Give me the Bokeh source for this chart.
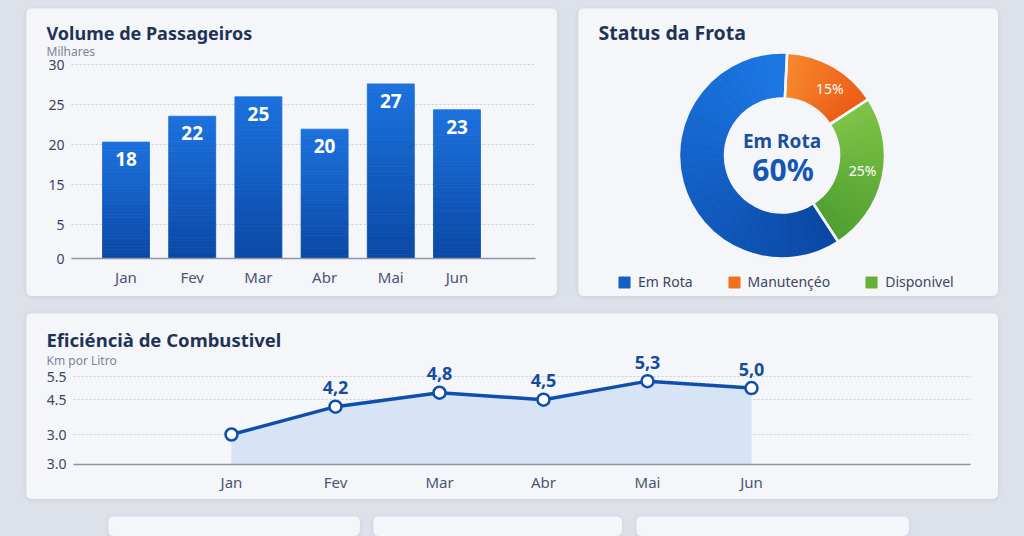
import numpy as np
from bokeh.plotting import figure
from bokeh.models import (ColumnDataSource, FixedTicker, Legend, LegendItem,
                          Range1d, LinearAxis, Grid)
from bokeh.layouts import column, row
from bokeh.embed import file_html
from bokeh.resources import INLINE
from bokeh.core.properties import value

# ---------------- data ----------------
months = ["Jan", "Fev", "Mar", "Abr", "Mai", "Jun"]
passengers = [18, 22, 25, 20, 27, 23]
bar_tick_values = [0, 5.2, 11.4, 17.6, 23.8, 30]
bar_tick_labels = ["0", "5", "15", "20", "25", "30"]

status = ["Em Rota", "Manutençéo", "Disponivel"]
status_pct = [60, 15, 25]
status_colors = ["#1767d4", "#f26a1b", "#63b43a"]

fuel = [3.0, 4.2, 4.8, 4.5, 5.3, 5.0]
fuel_tick_values = [1.72, 3.0, 4.5, 5.5]
fuel_tick_labels = ["3.0", "3.0", "4.5", "5.5"]

# ---------------- style ----------------
FONT = "Noto Sans"
BG = "#dde1e9"
CARD = "#f5f6f9"
NAVY = "#1f3357"
SUB = "#7d8596"
TICK = "#3b4664"
XLAB = "#4b5573"
GRID = "#c9cdd6"
AXIS = "#8f95a7"
BLUE_LINE = "#0e4fae"
# angular gradient ends (start colour, end colour) for each donut slice
slice_grad = [("#0a47a4", "#1c78e6"), ("#f7872b", "#ec5a13"), ("#7dc446", "#4f9e2f")]


def hexmix(c0, c1, t):
    a = np.array([int(c0[i:i + 2], 16) for i in (1, 3, 5)], dtype=float)
    b = np.array([int(c1[i:i + 2], 16) for i in (1, 3, 5)], dtype=float)
    c = a + (b - a) * t
    return "#%02x%02x%02x" % tuple(int(round(v)) for v in c)


def make_card(w, h, xr, yr):
    p = figure(width=w, height=h, output_backend="svg", toolbar_location=None,
               x_range=Range1d(*xr), y_range=Range1d(*yr),
               x_axis_type=None, y_axis_type=None, min_border=0)
    p.frame_align = False
    p.background_fill_color = CARD
    p.border_fill_color = CARD
    p.outline_line_color = None
    p.styles = {"border-radius": "6px", "overflow": "hidden",
                "box-shadow": "0 1px 4px rgba(40,50,80,0.10)"}
    return p


def px(p, x, y):
    """card pixel offset -> data coordinate (for decorative text placement)"""
    xr, yr = p.x_range, p.y_range
    return (xr.start + x / p.width * (xr.end - xr.start),
            yr.end - y / p.height * (yr.end - yr.start))


def add_axes(p, xloc, yloc, xb, xticks, xlabels, yticks, ylabels, xstand):
    xa = LinearAxis(fixed_location=yloc, bounds=xb, ticker=FixedTicker(ticks=xticks),
                    major_label_overrides=dict(zip(xticks, xlabels)))
    ya = LinearAxis(fixed_location=xloc, ticker=FixedTicker(ticks=yticks),
                    major_label_overrides=dict(zip(yticks, ylabels)))
    for ax in (xa, ya):
        ax.major_tick_line_color = None
        ax.minor_tick_line_color = None
        ax.major_tick_out = 0
        ax.minor_tick_out = 0
        ax.major_label_text_font = FONT
    ya.major_label_text_font_size = "14px"
    xa.major_label_text_font_size = "15px"
    ya.axis_line_color = None
    ya.major_label_text_color = TICK
    ya.major_label_standoff = 7
    xa.axis_line_color = AXIS
    xa.axis_line_width = 1.5
    xa.major_label_text_color = XLAB
    xa.major_label_standoff = xstand
    g = Grid(dimension=1, ticker=FixedTicker(ticks=yticks), cross_bounds=xb,
             grid_line_color=GRID, grid_line_dash="2 2", grid_line_width=1)
    p.add_layout(g)
    p.add_layout(ya, "left")
    p.add_layout(xa, "below")


def card_titles(p, main, sub, x, y_main, y_sub, size="18px"):
    mx, my = px(p, x, y_main)
    sx_, sy_ = px(p, x, y_sub)
    p.text(x=[mx], y=[my], text=[main], text_color=NAVY, text_font=value(FONT),
           text_font_size=size, text_font_style="bold", text_align="left",
           text_baseline="middle")
    if sub:
        p.text(x=[sx_], y=[sy_], text=[sub], text_color=SUB, text_font=value(FONT),
               text_font_size="12px", text_align="left", text_baseline="middle")


idx = list(range(len(months)))

# ---------------- bar chart ----------------
W1, H1 = 531, 288
step1, x0_1 = 66.2, 99.5          # px between bars, px of first bar centre
ppu1, base1 = 194 / 30, 250       # px per unit, px of baseline
p1 = make_card(W1, H1, (-x0_1 / step1, (W1 - x0_1) / step1),
               (-(H1 - base1) / ppu1, base1 / ppu1))
fl1, fr1 = px(p1, 45, 0)[0], px(p1, 509, 0)[0]
add_axes(p1, fl1, 0, (fl1, fr1), idx, months, bar_tick_values, bar_tick_labels, 8)
card_titles(p1, "Volume de Passageiros", "Milhares", 20, 24, 43)

N = 40
sx, sb, st, sc = [], [], [], []
for i, v in enumerate(passengers):
    for k in range(N):
        sx.append(i)
        sb.append(v * k / N)
        st.append(v * (k + 1) / N)
        sc.append(hexmix("#0a48a5", "#1c72de", (k + 0.5) / N))
p1.vbar(x=sx, bottom=sb, top=st, width=0.71, fill_color=sc, line_color=sc,
        line_width=0.8)
p1.text(x=idx, y=passengers, text=[str(v) for v in passengers], text_color="white",
        text_font=value(FONT), text_font_size="19px", text_font_style="bold",
        text_align="center", text_baseline="middle", y_offset=17)

# ---------------- donut ----------------
W2, H2 = 420, 288
p2 = make_card(W2, H2, (-203.5, 216.5), (-141, 147))
order = [1, 2, 0]
starts = [0.0] * 3
ends = [0.0] * 3
a = np.pi / 2 - 0.05
for i in order:
    starts[i] = a
    a -= status_pct[i] / 100 * 2 * np.pi
    ends[i] = a

K = 36
sub = dict(start=[], end=[], color=[])
rep = {}
for i in order:
    s, e = starts[i], ends[i]
    for k in range(K):
        if k == K // 2:
            rep[i] = len(sub["start"])
        sub["start"].append(s + (e - s) * k / K)
        sub["end"].append(s + (e - s) * (k + 1) / K)
        sub["color"].append(hexmix(slice_grad[i][0], slice_grad[i][1], (k + 0.5) / K))
rsub = p2.annular_wedge(x=0, y=0, inner_radius=57, outer_radius=103, start_angle="start",
                        end_angle="end", direction="clock", fill_color="color",
                        line_color="color", line_width=0.8, source=ColumnDataSource(sub))
src = ColumnDataSource(dict(start=starts, end=ends, label=status))
p2.annular_wedge(x=0, y=0, inner_radius=57, outer_radius=103, start_angle="start",
                 end_angle="end", direction="clock", fill_alpha=0,
                 line_color=CARD, line_width=2.5, source=src)
mids = [(s + e) / 2 for s, e in zip(starts, ends)]
lx = [82 * np.cos(mids[1] - 0.1), 82 * np.cos(mids[2] + 0.02)]
ly = [82 * np.sin(mids[1] - 0.1), 82 * np.sin(mids[2] + 0.02)]
p2.text(x=lx, y=ly, text=[f"{status_pct[i]}%" for i in (1, 2)], text_color="white",
        text_font=value(FONT), text_font_size="14px", text_align="center",
        text_baseline="middle")
p2.text(x=[0], y=[15], text=[status[0]], text_color="#1a4f9e", text_font=value(FONT),
        text_font_size="19px", text_font_style="bold", text_align="center",
        text_baseline="middle")
p2.text(x=[1], y=[-14], text=[f"{status_pct[0]}%"], text_color="#1457b5",
        text_font=value(FONT), text_font_size="30px", text_font_style="bold",
        text_align="center", text_baseline="middle")
card_titles(p2, "Status da Frota", None, 20, 24, 0, size="19.5px")
legend = Legend(items=[LegendItem(label=status[i], renderers=[rsub], index=rep[i])
                       for i in range(3)],
                orientation="horizontal", location=(39, 5), glyph_width=14,
                glyph_height=14, label_standoff=7, spacing=34, padding=0, margin=0,
                background_fill_alpha=0, border_line_alpha=0, label_text_font=FONT,
                label_text_font_size="14px", label_text_color=TICK)
p2.add_layout(legend)

# ---------------- line chart ----------------
W3, H3 = 972, 186
step3, x0_3 = 104, 205
ppu3, ref_py, ref_v = 23.2, 121, 3.0
p3 = make_card(W3, H3, (-x0_3 / step3, (W3 - x0_3) / step3),
               (ref_v - (H3 - ref_py) / ppu3, ref_v + ref_py / ppu3))
fl3, fr3 = px(p3, 47, 0)[0], px(p3, 944, 0)[0]
base3 = px(p3, 0, 151)[1]
add_axes(p3, fl3, base3, (fl3, fr3), idx, months, fuel_tick_values, fuel_tick_labels, 7)
card_titles(p3, "Eficiéncià de Combustivel", "Km por Litro", 20, 26, 47, size="18.5px")
p3.varea(x=idx, y1=base3, y2=fuel, fill_color="#d4e3f6", fill_alpha=0.95)
p3.line(idx, fuel, line_color=BLUE_LINE, line_width=3.5)
p3.scatter(idx, fuel, size=12, fill_color="white", line_color=BLUE_LINE, line_width=2.5)
fuel_labels = [""] + [f"{v:.1f}".replace(".", ",") for v in fuel[1:]]
p3.text(x=idx, y=fuel, text=fuel_labels, y_offset=-19, text_font=value(FONT),
        text_font_size="18px", text_font_style="bold", text_color="#174c9c",
        text_align="center", text_baseline="middle")

# ---------------- bottom cards ----------------
bottoms = [make_card(w, 20, (0, 1), (0, 1)) for w in (252, 249, 273)]

p1.margin = (8, 0, 0, 26)
p2.margin = (8, 0, 0, 21)
p3.margin = (17, 0, 0, 26)
bottoms[0].margin = (17, 0, 0, 108)
bottoms[1].margin = (17, 0, 0, 13)
bottoms[2].margin = (17, 0, 0, 14)

root = column(row(p1, p2), p3, row(*bottoms), width=1024, height=536,
              styles={"background-color": BG})

open("out.html", "w").write(file_html(root, INLINE))
